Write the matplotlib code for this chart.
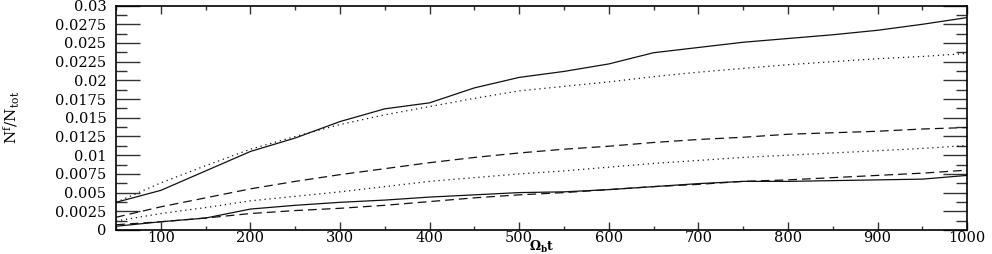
import matplotlib
matplotlib.use('Agg')
import matplotlib.pyplot as plt
from matplotlib.ticker import MultipleLocator, FuncFormatter

plt.rcParams['font.family'] = 'DejaVu Serif'
plt.rcParams['mathtext.fontset'] = 'dejavuserif'

# time axis (Omega_b t)
t = [50, 100, 150, 200, 250, 300, 350, 400, 450, 500,
     550, 600, 650, 700, 750, 800, 850, 900, 950, 1000]

# upper pair
upper_solid = [0.0037, 0.0053, 0.0079, 0.0105, 0.0123, 0.0145, 0.0162, 0.0170, 0.0190, 0.0204,
               0.0212, 0.0222, 0.0237, 0.0244, 0.0251, 0.0256, 0.0261, 0.0267, 0.0275, 0.0284]
upper_dotted = [0.0037, 0.0063, 0.0086, 0.0108, 0.0125, 0.0141, 0.0154, 0.0165, 0.0176, 0.0186,
                0.0192, 0.0198, 0.0205, 0.0211, 0.0216, 0.0221, 0.0225, 0.0229, 0.0232, 0.0236]
# middle pair
mid_dashed = [0.0017, 0.0031, 0.0043, 0.0055, 0.0065, 0.0074, 0.0082, 0.0090, 0.0097, 0.0103,
              0.0108, 0.0112, 0.0117, 0.0121, 0.0124, 0.0128, 0.0130, 0.0132, 0.0135, 0.0137]
mid_dotted = [0.0012, 0.0022, 0.0030, 0.0039, 0.0045, 0.0051, 0.0058, 0.0065, 0.0070, 0.0075,
              0.0079, 0.0084, 0.0089, 0.0093, 0.0097, 0.0100, 0.0103, 0.0106, 0.0109, 0.0113]
# lower pair
low_solid = [0.0005, 0.0011, 0.0016, 0.0028, 0.0033, 0.0037, 0.0040, 0.0044, 0.0047, 0.0050,
             0.0051, 0.0054, 0.0058, 0.0062, 0.0065, 0.0065, 0.0066, 0.0067, 0.0068, 0.0073]
low_dashed = [0.0007, 0.0011, 0.0016, 0.0022, 0.0026, 0.0029, 0.0033, 0.0038, 0.0043, 0.0047,
              0.0050, 0.0054, 0.0058, 0.0061, 0.0065, 0.0067, 0.0070, 0.0073, 0.0076, 0.0080]

fig = plt.figure(figsize=(9.92, 2.54), dpi=100)
ax = fig.add_axes([0.117, 0.0945, 0.858, 0.8835])

lc = '#111111'
ax.plot(t, upper_solid, color=lc, lw=0.9, linestyle='-')
ax.plot(t, upper_dotted, color=lc, lw=0.9, linestyle=(0, (1, 3)))
ax.plot(t, mid_dashed, color=lc, lw=0.9, linestyle=(0, (7, 4)))
ax.plot(t, mid_dotted, color=lc, lw=0.9, linestyle=(0, (1, 3)))
ax.plot(t, low_solid, color=lc, lw=0.9, linestyle='-')
ax.plot(t, low_dashed, color=lc, lw=0.9, linestyle=(0, (7, 4)))

ax.set_xlim(50, 1000)
ax.set_ylim(0, 0.03)

ax.xaxis.set_major_locator(MultipleLocator(100))
ax.xaxis.set_minor_locator(MultipleLocator(50))
ax.yaxis.set_major_locator(MultipleLocator(0.0025))
ax.yaxis.set_minor_locator(MultipleLocator(0.00125))

def yfmt(v, pos):
    if abs(v) < 1e-12:
        return '0'
    return ('%.4f' % v).rstrip('0')

ax.yaxis.set_major_formatter(FuncFormatter(yfmt))

ax.tick_params(axis='both', which='both', direction='in', top=True, right=True,
               color='#333333', labelsize=10.5)
ax.tick_params(axis='y', which='major', length=17, width=1.0, pad=7)
ax.tick_params(axis='y', which='minor', length=8, width=1.0)
ax.tick_params(axis='x', which='major', length=6, width=1.0, pad=1)
ax.tick_params(axis='x', which='minor', length=3, width=1.0)

for s in ax.spines.values():
    s.set_linewidth(1.2)

ax.set_xlabel(r'$\mathbf{\Omega_b t}$', fontsize=9, labelpad=-5)
ax.set_ylabel(r'$\mathrm{N^f/N_{tot}}$', fontsize=11)
ax.yaxis.set_label_coords(-0.11, 0.5)

plt.savefig('out.png', dpi=100)
